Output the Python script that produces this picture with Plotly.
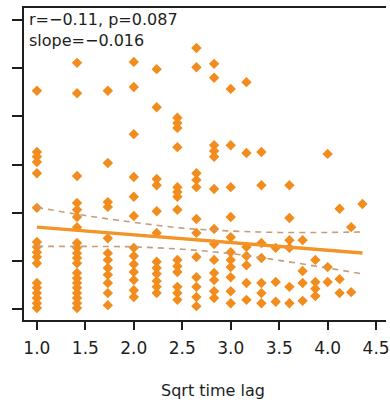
import math
import plotly.graph_objects as go

# Time lags (integer units); the x axis shows their square root
time_lags = list(range(1, 20))

# Observed values for each time lag
lag_01 = [0.453, 0.326, 0.316, 0.305, 0.282, 0.210, 0.139, 0.129, 0.118, 0.108, 0.095,
          0.054, 0.044, 0.033, 0.023, 0.012, 0.002]
lag_02 = [0.511, 0.448, 0.276, 0.220, 0.206, 0.191, 0.170, 0.137, 0.127, 0.116, 0.106,
          0.095, 0.075, 0.064, 0.054, 0.044, 0.033, 0.023, 0.012, 0.002]
lag_03 = [0.453, 0.303, 0.222, 0.212, 0.147, 0.116, 0.102, 0.085, 0.071, 0.054, 0.033, 0.008]
lag_04 = [0.513, 0.461, 0.363, 0.274, 0.233, 0.193, 0.127, 0.110, 0.093, 0.077, 0.060,
          0.039, 0.025]
lag_05 = [0.498, 0.419, 0.270, 0.257, 0.203, 0.158, 0.098, 0.085, 0.073, 0.058, 0.046, 0.033]
lag_06 = [0.397, 0.386, 0.376, 0.336, 0.253, 0.243, 0.233, 0.206, 0.102, 0.089, 0.077,
          0.046, 0.033, 0.019]
lag_07 = [0.542, 0.502, 0.282, 0.268, 0.253, 0.187, 0.158, 0.108, 0.066, 0.046, 0.025, 0.006]
lag_08 = [0.509, 0.480, 0.340, 0.328, 0.316, 0.249, 0.166, 0.135, 0.102, 0.075, 0.060,
          0.037, 0.023]
lag_09 = [0.457, 0.340, 0.253, 0.191, 0.149, 0.118, 0.102, 0.087, 0.066, 0.037, 0.012]
lag_10 = [0.471, 0.324, 0.129, 0.110, 0.091, 0.054, 0.019]
lag_11 = [0.326, 0.257, 0.137, 0.106, 0.054, 0.033, 0.012]
lag_12 = [0.127, 0.056, 0.015]
lag_13 = [0.257, 0.189, 0.143, 0.127, 0.046, 0.012]
lag_14 = [0.143, 0.079, 0.054, 0.017]
lag_15 = [0.102, 0.056, 0.042, 0.027]
lag_16 = [0.322, 0.087, 0.056]
lag_17 = [0.208, 0.062, 0.033]
lag_18 = [0.170, 0.035]
lag_19 = [0.218]

values_by_lag = [lag_01, lag_02, lag_03, lag_04, lag_05, lag_06, lag_07, lag_08, lag_09,
                 lag_10, lag_11, lag_12, lag_13, lag_14, lag_15, lag_16, lag_17, lag_18, lag_19]

# Regression summary
r_value = -0.11
p_value = 0.087
slope = -0.016
intercept = 0.186

# Confidence band of the fit
band_x = [1.0, 1.5, 2.0, 2.5, 3.0, 3.5, 4.0, 4.359]
band_upper = [0.211, 0.194, 0.180, 0.168, 0.162, 0.159, 0.159, 0.160]
band_lower = [0.130, 0.130, 0.129, 0.124, 0.115, 0.101, 0.085, 0.073]

x_ticks = [1.0, 1.5, 2.0, 2.5, 3.0, 3.5, 4.0, 4.5]
y_ticks = [0.0, 0.1, 0.2, 0.3, 0.4, 0.5, 0.6]

ORANGE = "#F28C1C"
LINE_ORANGE = "#F29427"
BAND = "#C49E7C"
TEXT = "#1E1E1E"
FONT = "DejaVu Sans"

xs, ys = [], []
for lag, vals in zip(time_lags, values_by_lag):
    for v in vals:
        xs.append(math.sqrt(lag))
        ys.append(v)

fit_x = [1.0, math.sqrt(time_lags[-1])]
fit_y = [intercept + slope * x for x in fit_x]

fig = go.Figure()
fig.add_trace(go.Scatter(
    x=xs, y=ys, mode="markers",
    marker=dict(symbol="diamond", size=8, color=ORANGE, line=dict(width=0)),
    hoverinfo="skip", showlegend=False,
))
for band in (band_upper, band_lower):
    fig.add_trace(go.Scatter(
        x=band_x, y=band, mode="lines",
        line=dict(color=BAND, width=1.6, dash="6px,5px", shape="spline"),
        hoverinfo="skip", showlegend=False,
    ))
fig.add_trace(go.Scatter(
    x=fit_x, y=fit_y, mode="lines",
    line=dict(color=LINE_ORANGE, width=3.5),
    hoverinfo="skip", showlegend=False,
))

fig.add_annotation(
    x=0.008, y=0.962, xref="paper", yref="paper", xanchor="left", yanchor="middle",
    text=f"r=\u2212{abs(r_value):.2f}, p={p_value:.3f}", showarrow=False,
    font=dict(family=FONT, size=16, color=TEXT),
)
fig.add_annotation(
    x=0.008, y=0.895, xref="paper", yref="paper", xanchor="left", yanchor="middle",
    text=f"slope=\u2212{abs(slope):.3f}", showarrow=False,
    font=dict(family=FONT, size=16, color=TEXT),
)
fig.add_annotation(
    x=0.522, y=-0.225, xref="paper", yref="paper", xanchor="center", yanchor="middle",
    text="Sqrt time lag", showarrow=False,
    font=dict(family=FONT, size=16, color=TEXT),
)

fig.update_layout(
    width=390, height=405,
    margin=dict(l=24, r=0, t=8, b=85),
    paper_bgcolor="white", plot_bgcolor="white",
    font=dict(family=FONT, color=TEXT),
)
fig.update_xaxes(
    range=[0.867, 4.602], tickvals=x_ticks, tickformat=".1f",
    ticks="outside", ticklen=8, tickwidth=1.5, tickcolor=TEXT,
    showline=True, linewidth=1.5, linecolor=TEXT, mirror=True,
    showgrid=False, zeroline=False, ticklabeloverflow="allow",
    ticklabelstandoff=4,
    tickfont=dict(family=FONT, size=17, color=TEXT),
)
fig.update_yaxes(
    range=[-0.0228, 0.6249], tickvals=y_ticks, showticklabels=False,
    ticks="outside", ticklen=10, tickwidth=1.5, tickcolor=TEXT,
    showline=True, linewidth=1.5, linecolor=TEXT,
    showgrid=False, zeroline=False,
)

fig.write_html("out.html")
